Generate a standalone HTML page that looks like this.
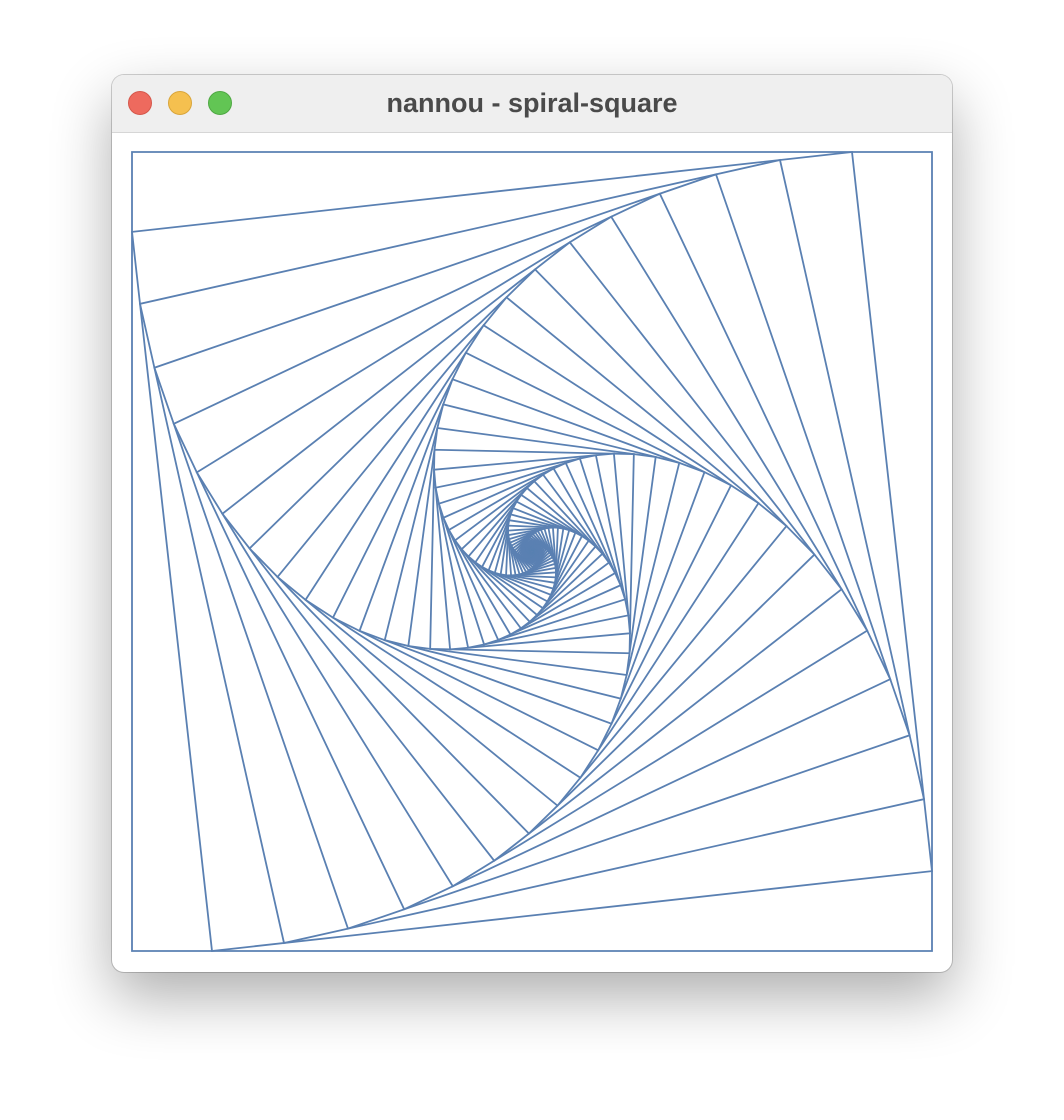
<!DOCTYPE html>
<html>
<head>
<meta charset="utf-8">
<style>
  html,body{margin:0;padding:0;background:#ffffff;}
  body{width:1064px;height:1120px;position:relative;overflow:hidden;font-family:"Liberation Sans",sans-serif;}
  .window{position:absolute;left:112px;top:75px;width:840px;height:897px;border-radius:12px;background:#fff;
    box-shadow:0 25px 60px rgba(0,0,0,0.32),0 0 0 1px rgba(0,0,0,0.18);overflow:hidden;}
  .titlebar{position:absolute;left:0;top:0;width:840px;height:57px;background:#efefef;border-bottom:1px solid #d6d6d6;}
  .light{position:absolute;top:16px;width:24px;height:24px;border-radius:50%;box-sizing:border-box;}
  .title{position:absolute;left:0;width:840px;top:13px;text-align:center;font-weight:bold;font-size:27px;color:#4a4a4a;}
  svg{position:absolute;left:0;top:0;}
</style>
</head>
<body>
<div class="window">
  <div class="titlebar">
    <div class="light" style="left:16px;background:#ee6a5e;border:1px solid #d5574b;"></div>
    <div class="light" style="left:56px;background:#f5c04f;border:1px solid #d9a53a;"></div>
    <div class="light" style="left:96px;background:#62c554;border:1px solid #4fa843;"></div>
    <div class="title">nannou - spiral-square</div>
  </div>
</div>
<svg id="chart" width="1064" height="1120"></svg>
<script>
const squareBounds = [132, 152, 932, 951];
const stepFraction = [0.1];
const squareCount = [140];

const svg = document.getElementById('chart');
const NS = 'http://www.w3.org/2000/svg';
let pts = [[squareBounds[2], squareBounds[1]], [squareBounds[0], squareBounds[1]],
           [squareBounds[0], squareBounds[3]], [squareBounds[2], squareBounds[3]]];
const t = stepFraction[0];
for (let k = 0; k < squareCount[0]; k++) {
  const poly = document.createElementNS(NS, 'polygon');
  poly.setAttribute('points', pts.map(p => p[0].toFixed(2) + ',' + p[1].toFixed(2)).join(' '));
  poly.setAttribute('fill', 'none');
  poly.setAttribute('stroke', '#5a80b2');
  poly.setAttribute('stroke-width', '1.8');
  
  
  svg.appendChild(poly);
  pts = pts.map((p, i) => {
    const q = pts[(i + 1) % 4];
    return [p[0] + t * (q[0] - p[0]), p[1] + t * (q[1] - p[1])];
  });
}
</script>
</body>
</html>
